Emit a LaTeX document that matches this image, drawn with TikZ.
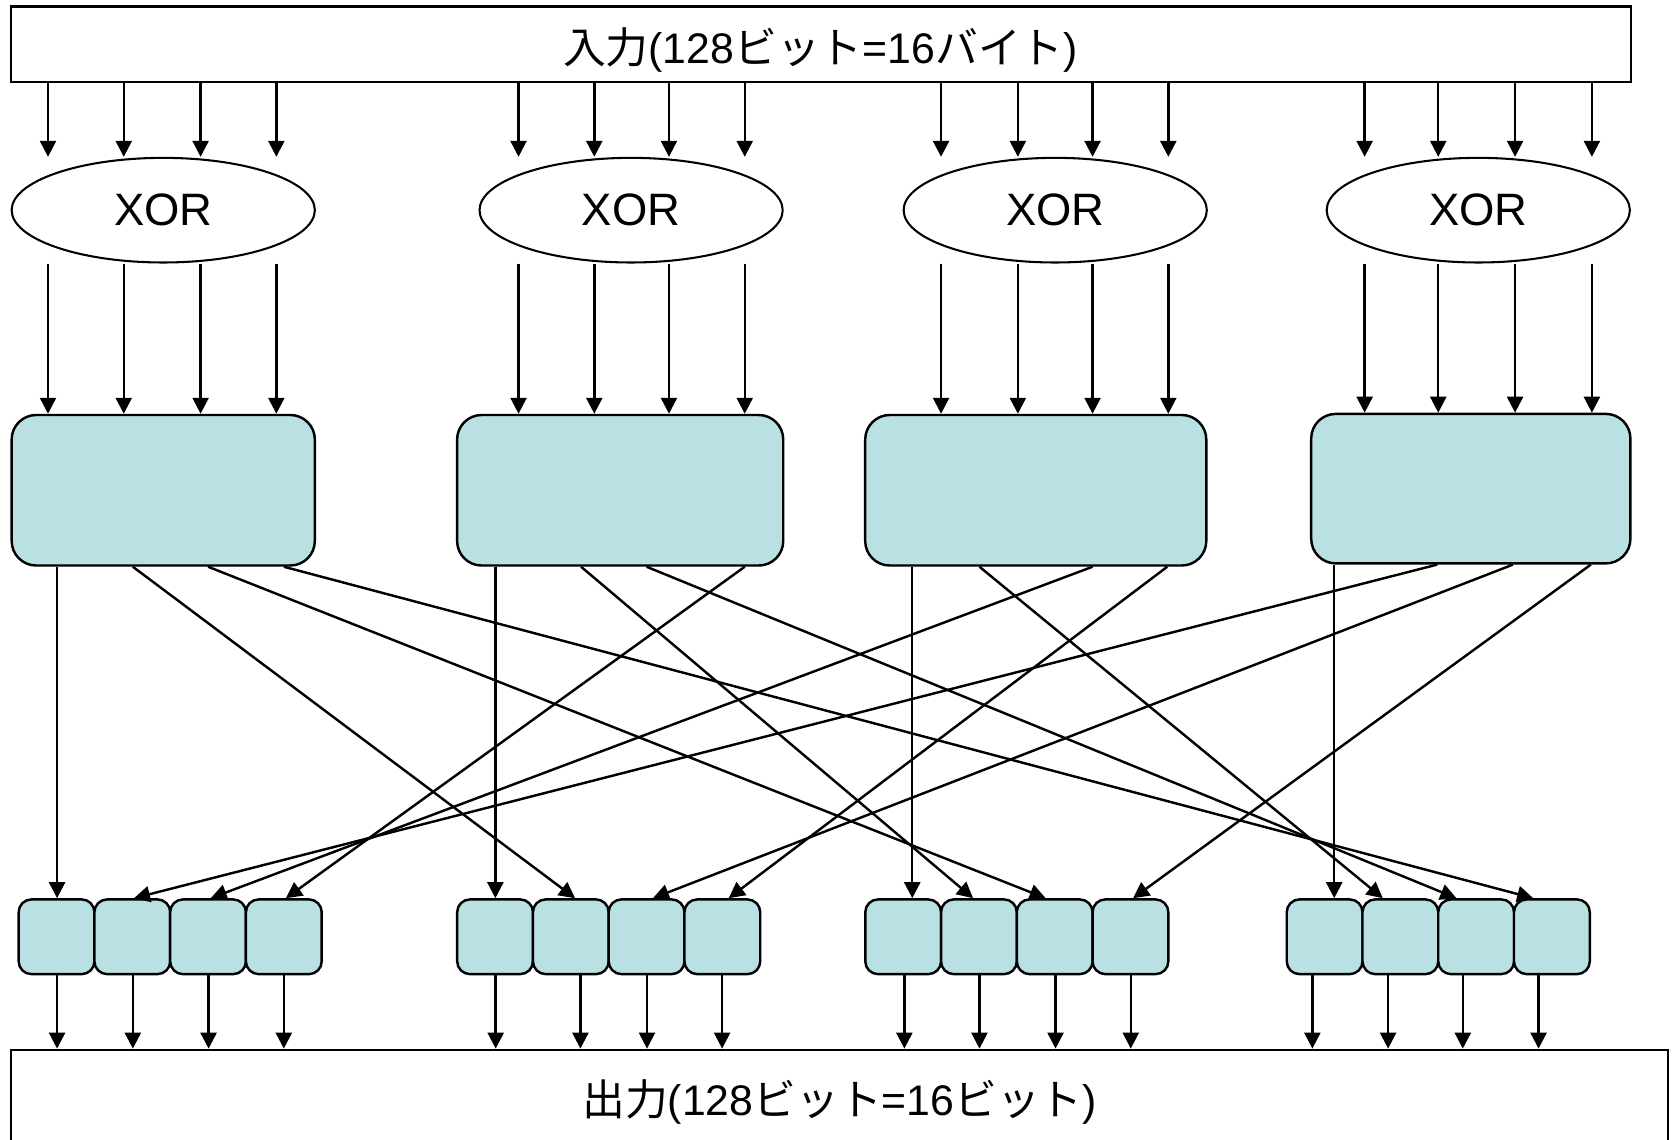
\documentclass[tikz,border=0pt]{standalone}
\usepackage{fontspec}
\setmainfont{Liberation Sans}
\newfontfamily\jp{Noto Sans CJK JP}
\usetikzlibrary{shapes.geometric,arrows.meta,calc}
\definecolor{cellblue}{RGB}{185,224,227}
\begin{document}
\begin{tikzpicture}[x=0.01cm,y=-0.01cm,
  line width=0.65pt,
  arr/.style={-{Triangle[length=0.15cm,width=0.15cm]}, line width=0.65pt},
  frame/.style={draw, rectangle, inner sep=0pt},
  xorop/.style={draw, ellipse, inner sep=0pt, minimum width=2.84cm,
    minimum height=0.98cm, line width=0.55pt,
    font=\fontsize{12.1pt}{14pt}\selectfont},
  mixbox/.style={draw, fill=cellblue, rounded corners=0.23cm, inner sep=0pt,
    minimum height=1.41cm},
  cell/.style={draw, fill=cellblue, rounded corners=0.12cm, inner sep=0pt,
    minimum width=0.71cm, minimum height=0.70cm},
  lbl/.style={font=\fontsize{11.4pt}{13pt}\selectfont, inner sep=0pt}
]
\path[use as bounding box] (0,0) rectangle (1568,1068);
\clip (0,0) rectangle (1568,1068);

% input and output frames
\node[frame, minimum width=15.17cm, minimum height=0.71cm] (in) at (769.5,41.5) {};
\node[lbl] (inlabel) at (769,47) {{\jp 入力}(128{\jp ビット}=16{\jp バイト})};
\node[frame, minimum width=15.52cm, minimum height=1.16cm] (out) at (787,1042) {};
\node[lbl] (outlabel) at (787,1033) {{\jp 出力}(128{\jp ビット}=16{\jp ビット})};

% XOR stages
\node[xorop] (E1) at (153,197) {XOR};
\node[xorop] (E2) at (591.5,197) {XOR};
\node[xorop] (E3) at (989,197) {XOR};
\node[xorop] (E4) at (1385.5,197) {XOR};

% column blocks
\node[mixbox, minimum width=2.84cm] (B1) at (153,459.5) {};
\node[mixbox, minimum width=3.055cm] (B2) at (581.25,459.5) {};
\node[mixbox, minimum width=3.195cm] (B3) at (970.75,459.5) {};
\node[mixbox, minimum width=2.99cm, minimum height=1.40cm] (B4) at (1378.5,458) {};

% byte cells
\foreach \g/\l in {1/17.5, 2/428.5, 3/811, 4/1206} {
  \foreach \k in {1,...,4} {
    \node[cell] (s\g\k) at ({\l+35.5+71*(\k-1)},878) {};
  }
}

% input -> XOR -> column blocks
\foreach \e/\xa/\xb/\xc/\xd in {1/45/116/188/259, 2/486/557/627/698,
                                3/882/954/1024/1095, 4/1279/1348/1420/1492} {
  \foreach \x in {\xa,\xb,\xc,\xd} {
    \draw[arr] (in.south -| \x,0) -- (E\e.north -| \x,0);
    \draw[arr] (E\e.south -| \x,0) -- (B\e.north -| \x,0);
  }
}

% column blocks -> byte cells
\draw[arr] (B1.south -| 53.5,0) -- (s11.north -| 53.5,0);
\draw[arr] (B1.south -| 124.5,0) -- (s22.north -| 539,0);
\draw[arr] (B1.south -| 195,0) -- (s33.north -| 980,0);
\draw[arr] (B1.south -| 266,0) -- (s44.north -| 1437,0);

\draw[arr] (B2.south -| 464.3,0) -- (s21.north -| 464.3,0);
\draw[arr] (B2.south -| 544.6,0) -- (s32.north -| 912,0);
\draw[arr] (B2.south -| 606,0) -- (s43.north -| 1365,0);
\draw[arr] (B2.south -| 698,0) -- (s14.north -| 268,0);

\draw[arr] (B3.south -| 855,0) -- (s31.north -| 855,0);
\draw[arr] (B3.south -| 918,0) -- (s42.north -| 1296,0);
\draw[arr] (B3.south -| 1024,0) -- (s13.north -| 197.5,0);
\draw[arr] (B3.south -| 1094,0) -- (s24.north -| 683,0);

\draw[arr] (B4.south -| 1250.5,0) -- (s41.north -| 1250.5,0);
\draw[arr] (B4.south -| 1347,0) -- (s12.north -| 125.6,0);
\draw[arr] (B4.south -| 1418,0) -- (s23.north -| 612,0);
\draw[arr] (B4.south -| 1491,0) -- (s34.north -| 1062,0);

% byte cells -> output
\foreach \g/\xa/\xb/\xc/\xd in {1/53.5/124.5/195.5/266, 2/464.6/544/606.4/676.8,
                                3/847.6/918/989.3/1059.8, 4/1230/1301/1371/1442} {
  \draw[arr] (s\g1.south -| \xa,0) -- (out.north -| \xa,0);
  \draw[arr] (s\g2.south -| \xb,0) -- (out.north -| \xb,0);
  \draw[arr] (s\g3.south -| \xc,0) -- (out.north -| \xc,0);
  \draw[arr] (s\g4.south -| \xd,0) -- (out.north -| \xd,0);
}
\end{tikzpicture}
\end{document}
